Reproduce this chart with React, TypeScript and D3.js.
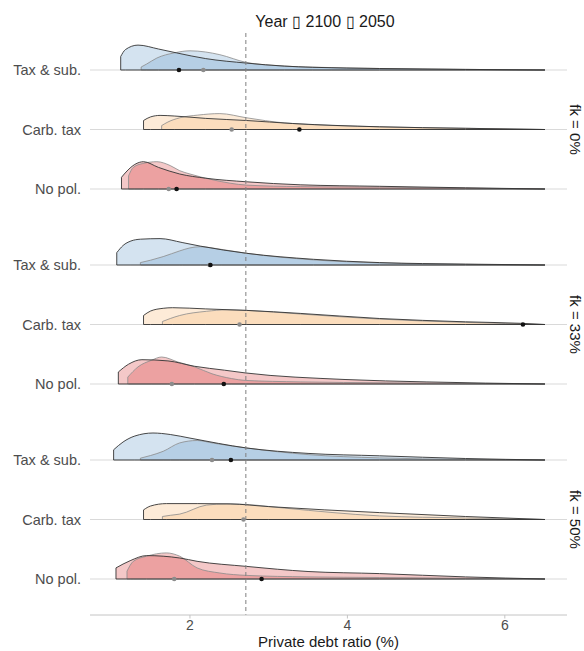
import * as d3 from 'd3';

// facets (top to bottom) and policy rows inside each facet (top to bottom)
const facets = ['fk = 0%', 'fk = 33%', 'fk = 50%'];
const policies = ['Tax & sub.', 'Carb. tax', 'No pol.'];
const xTicks = [2, 4, 6];
const refLine = 2.71;

type Pt = [number, number];

// densities: [debt ratio, density]
// "2100" = black outline, "2050" = grey outline
const taxSub0_2100: Pt[] = [[1.12, 0.45], [1.18, 0.68], [1.34, 0.83], [1.6, 0.7], [1.83, 0.57], [2.2, 0.38], [2.72, 0.23], [3.2, 0.13], [3.56, 0.09], [4.41, 0.05], [5.5, 0.02], [6.51, 0]];
const taxSub0_2050: Pt[] = [[1.38, 0.1], [1.45, 0.2], [1.58, 0.4], [1.8, 0.57], [2.0, 0.64], [2.2, 0.6], [2.38, 0.51], [2.72, 0.25], [3.14, 0.14], [3.8, 0.08], [4.41, 0.05], [5.5, 0.02], [6.51, 0]];
const carb0_2100: Pt[] = [[1.41, 0.3], [1.5, 0.42], [1.62, 0.47], [1.8, 0.45], [2.2, 0.37], [2.72, 0.3], [3.3, 0.2], [4.41, 0.09], [5.5, 0.04], [6.51, 0]];
const carb0_2050: Pt[] = [[1.64, 0.13], [1.72, 0.25], [1.87, 0.39], [2.1, 0.48], [2.38, 0.53], [2.72, 0.39], [3.2, 0.22], [4.41, 0.09], [5.5, 0.04], [6.51, 0]];
const noPol0_2100: Pt[] = [[1.13, 0.39], [1.2, 0.6], [1.3, 0.82], [1.41, 0.91], [1.6, 0.72], [1.87, 0.5], [2.2, 0.36], [2.72, 0.24], [3.4, 0.14], [4.41, 0.09], [5.5, 0.04], [6.51, 0]];
const noPol0_2050: Pt[] = [[1.22, 0.44], [1.28, 0.72], [1.4, 0.85], [1.58, 0.91], [1.75, 0.78], [1.87, 0.61], [2.0, 0.5], [2.3, 0.3], [2.72, 0.13], [3.4, 0.08], [4.41, 0.06], [5.5, 0.03], [6.51, 0]];

const taxSub33_2100: Pt[] = [[1.07, 0.41], [1.15, 0.65], [1.25, 0.8], [1.37, 0.86], [1.62, 0.88], [1.9, 0.75], [2.13, 0.63], [2.72, 0.39], [3.57, 0.19], [4.41, 0.08], [5.5, 0.03], [6.51, 0]];
const taxSub33_2050: Pt[] = [[1.37, 0.08], [1.5, 0.16], [1.66, 0.28], [1.87, 0.47], [2.0, 0.57], [2.13, 0.61], [2.4, 0.52], [2.72, 0.39], [3.57, 0.17], [4.41, 0.07], [5.5, 0.02], [6.51, 0]];
const carb33_2100: Pt[] = [[1.41, 0.3], [1.5, 0.45], [1.66, 0.54], [1.78, 0.56], [2.2, 0.52], [2.72, 0.47], [3.4, 0.37], [4.41, 0.2], [5.5, 0.09], [6.2, 0.04], [6.51, 0]];
const carb33_2050: Pt[] = [[1.65, 0.1], [1.75, 0.2], [1.87, 0.3], [2.21, 0.44], [2.47, 0.49], [2.72, 0.47], [3.4, 0.35], [4.41, 0.18], [5.5, 0.07], [6.51, 0]];
const noPol33_2100: Pt[] = [[1.09, 0.4], [1.22, 0.66], [1.39, 0.81], [1.72, 0.77], [2.06, 0.59], [2.44, 0.46], [2.7, 0.37], [3.97, 0.15], [5.0, 0.07], [6.51, 0]];
const noPol33_2050: Pt[] = [[1.21, 0.23], [1.34, 0.57], [1.51, 0.79], [1.64, 0.9], [1.85, 0.73], [2.06, 0.57], [2.28, 0.34], [2.53, 0.18], [2.7, 0.12], [3.4, 0.07], [4.5, 0.04], [6.51, 0]];

const taxSub50_2100: Pt[] = [[1.03, 0.34], [1.15, 0.6], [1.3, 0.8], [1.53, 0.9], [1.75, 0.85], [2.0, 0.73], [2.72, 0.4], [3.5, 0.22], [4.41, 0.14], [5.5, 0.05], [6.51, 0]];
const taxSub50_2050: Pt[] = [[1.37, 0.06], [1.5, 0.15], [1.66, 0.29], [1.87, 0.57], [2.09, 0.65], [2.3, 0.56], [2.72, 0.4], [3.5, 0.18], [4.41, 0.07], [5.5, 0.02], [6.51, 0]];
const carb50_2100: Pt[] = [[1.41, 0.32], [1.5, 0.45], [1.7, 0.53], [2.1, 0.53], [2.51, 0.52], [3.0, 0.43], [4.41, 0.23], [5.5, 0.1], [6.51, 0]];
const carb50_2050: Pt[] = [[1.65, 0.1], [1.75, 0.14], [1.87, 0.18], [2.21, 0.48], [2.47, 0.52], [2.72, 0.5], [3.2, 0.38], [4.41, 0.12], [5.5, 0.05], [6.51, 0]];
const noPol50_2100: Pt[] = [[1.06, 0.37], [1.24, 0.61], [1.45, 0.78], [1.87, 0.7], [2.09, 0.59], [2.72, 0.42], [3.5, 0.25], [4.41, 0.18], [5.5, 0.07], [6.51, 0]];
const noPol50_2050: Pt[] = [[1.2, 0.26], [1.28, 0.59], [1.45, 0.76], [1.7, 0.87], [1.87, 0.76], [2.09, 0.37], [2.38, 0.2], [2.72, 0.12], [3.5, 0.07], [4.41, 0.05], [6.51, 0]];

// medians (dots), one per row, facets in order, policies in order
const median2100 = [1.86, 3.39, 1.83, 2.26, 6.23, 2.43, 2.52, null, 2.91];
const median2050 = [2.17, 2.53, 1.73, 2.25, 2.63, 1.77, 2.28, 2.68, 1.8];

const dens2100 = [taxSub0_2100, carb0_2100, noPol0_2100, taxSub33_2100, carb33_2100, noPol33_2100, taxSub50_2100, carb50_2100, noPol50_2100];
const dens2050 = [taxSub0_2050, carb0_2050, noPol0_2050, taxSub33_2050, carb33_2050, noPol33_2050, taxSub50_2050, carb50_2050, noPol50_2050];

const COLORS: Record<string, string> = {
  'Tax & sub.': '#70a2cd',
  'Carb. tax': '#f8bc7d',
  'No pol.': '#da4848',
};

const FONT = '"Liberation Sans", Arial, sans-serif';

const App = () => {
  const width = 584;
  const height = 651;
  const left = 90;
  const right = 567;
  const axisY = 615;

  const x = d3.scaleLinear().domain([0.73, 6.79]).range([left, right]);
  const facetY = d3.scalePoint().domain(facets).range([70, 460]);
  const rowY = d3.scalePoint().domain(policies).range([0, 119]);
  const dens = d3.scaleLinear().domain([0, 1]).range([0, 30]);

  const rows = facets.flatMap((f, fi) =>
    policies.map((p, pi) => ({ f, p, i: fi * 3 + pi, y: (facetY(f) ?? 0) + (rowY(p) ?? 0) }))
  );

  const areaAt = (base: number) =>
    d3.area<Pt>()
      .x(d => x(d[0]))
      .y0(base)
      .y1(d => base - dens(d[1]))
      .curve(d3.curveMonotoneX);

  return (
    <svg width={width} height={height} style={{ position: 'absolute', left: 0, top: 0, background: '#fff' }} fontFamily={FONT}>
      <defs>
        <clipPath id="panel">
          <rect x={left} y={0} width={right - left} height={height} />
        </clipPath>
      </defs>

      {/* legend */}
      <text x={325} y={27} textAnchor="middle" fontSize={16} fill="#1a1a1a">Year ▯ 2100 ▯ 2050</text>

      {/* baselines */}
      {rows.map(r => (
        <line key={`b${r.i}`} x1={left} x2={right} y1={r.y} y2={r.y} stroke="#d9d9d9" strokeWidth={1} />
      ))}

      <g clipPath="url(#panel)">
        {rows.map(r => {
          const a = areaAt(r.y);
          const col = COLORS[r.p];
          return (
            <g key={`r${r.i}`}>
              <path d={a(dens2100[r.i]) ?? ''} fill={col} fillOpacity={0.3} stroke="none" />
              <path d={a(dens2050[r.i]) ?? ''} fill={col} fillOpacity={0.3} stroke="#8a8a8a" strokeWidth={0.8} />
              <path d={a(dens2100[r.i]) ?? ''} fill="none" stroke="#333" strokeWidth={0.9} />
              {median2050[r.i] != null && (
                <circle cx={x(median2050[r.i] as number)} cy={r.y} r={2.3} fill="#8c8c8c" />
              )}
              {median2100[r.i] != null && (
                <circle cx={x(median2100[r.i] as number)} cy={r.y} r={2.3} fill="#111" />
              )}
            </g>
          );
        })}
      </g>

      {/* reference line */}
      <line x1={x(refLine)} x2={x(refLine)} y1={33} y2={axisY} stroke="#7f7f7f" strokeWidth={1} strokeDasharray="4,3" />

      {/* y labels */}
      {rows.map(r => (
        <text key={`l${r.i}`} x={81} y={r.y} dy="0.35em" textAnchor="end" fontSize={14.5} fill="#4d4d4d">{r.p}</text>
      ))}

      {/* facet strips */}
      {facets.map(f => {
        const cy = (facetY(f) ?? 0) + (rowY(policies[1]) ?? 0);
        return (
          <text key={f} transform={`translate(570,${cy}) rotate(90)`} textAnchor="middle" fontSize={15} fill="#1a1a1a">{f}</text>
        );
      })}

      {/* x axis */}
      <line x1={left} x2={right} y1={axisY} y2={axisY} stroke="#c4c4c4" strokeWidth={1} />
      {xTicks.map(t => (
        <g key={t}>
          <line x1={x(t)} x2={x(t)} y1={axisY} y2={axisY + 3.5} stroke="#c4c4c4" />
          <text x={x(t)} y={630} textAnchor="middle" fontSize={14} fill="#4d4d4d">{t}</text>
        </g>
      ))}
      <text x={(left + right) / 2} y={647} textAnchor="middle" fontSize={15} fill="#1a1a1a">Private debt ratio (%)</text>
    </svg>
  );
};

export default App;
